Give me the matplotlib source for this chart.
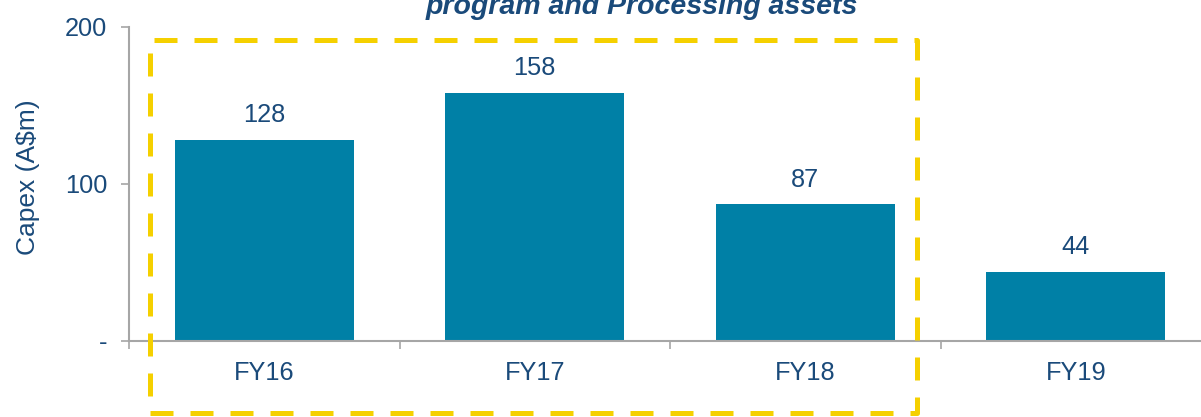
import matplotlib
matplotlib.use("Agg")
import matplotlib.pyplot as plt
from matplotlib.patches import Rectangle
import numpy as np

plt.rcParams['font.family'] = ['Liberation Sans', 'DejaVu Sans']

categories = ["FY16", "FY17", "FY18", "FY19"]
capex = [128, 158, 87, 44]
ytick_values = [0, 100, 200]
ytick_labels = ["-", "100", "200"]

text_blue = "#1A4A7A"
bar_color = "#0080A6"
axis_grey = "#A6A6A6"
yellow = "#F5D000"
fs = 18.3

W, H = 1201, 417
fig = plt.figure(figsize=(W / 100, H / 100), dpi=100)

# axes in pixel geometry
left_px, right_px = 129, 1211
top_px, bottom_px = 27, 340.5
ax = fig.add_axes([left_px / W, 1 - bottom_px / H,
                   (right_px - left_px) / W, (bottom_px - top_px) / H])

x = np.arange(len(categories))
ax.bar(x, capex, width=0.66, color=bar_color, zorder=2)
for xi, v in zip(x, capex):
    ax.annotate(f"{v}", (xi, v), xytext=(0, 9), textcoords="offset points",
                ha="center", va="bottom", fontsize=fs, color=text_blue)

ax.set_xlim(-0.5, len(categories) - 0.5)
ax.set_ylim(0, 200)

ax.set_xticks(x)
ax.set_xticklabels(categories)
ax.set_xticks(np.arange(len(categories) + 1) - 0.5, minor=True)
ax.tick_params(axis="x", which="major", length=0, pad=15, labelsize=fs,
               labelcolor=text_blue)
ax.tick_params(axis="x", which="minor", length=5.5, width=1.2, color=axis_grey,
               direction="out")

ax.set_yticks(ytick_values)
ax.set_yticklabels(ytick_labels)
ax.tick_params(axis="y", length=5.5, width=1.2, color=axis_grey, pad=10,
               labelsize=fs, labelcolor=text_blue)

for side in ["top", "right"]:
    ax.spines[side].set_visible(False)
for side in ["left", "bottom"]:
    ax.spines[side].set_color(axis_grey)
    ax.spines[side].set_linewidth(1.5)

ax.set_ylabel("Capex (A$m)", fontsize=19, color=text_blue)
ax.yaxis.set_label_coords((40 - left_px) / (right_px - left_px), 0.52)

# highlight box around FY16-FY18
rx0, rx1, ry0, ry1 = 150, 917, 40, 413
box = Rectangle((rx0 / W, 1 - ry1 / H), (rx1 - rx0) / W, (ry1 - ry0) / H,
                transform=fig.transFigure, fill=False, edgecolor=yellow,
                linewidth=3.6, linestyle=(0, (4.6, 3.4)), joinstyle="round",
                clip_on=False, zorder=5)
fig.add_artist(box)

fig.text(642 / W, 1 - 13.5 / H, "program and Processing assets",
         ha="center", va="baseline", fontsize=20.5, fontweight="bold",
         fontstyle="italic", color=text_blue)

fig.savefig("out.png", dpi=100)
